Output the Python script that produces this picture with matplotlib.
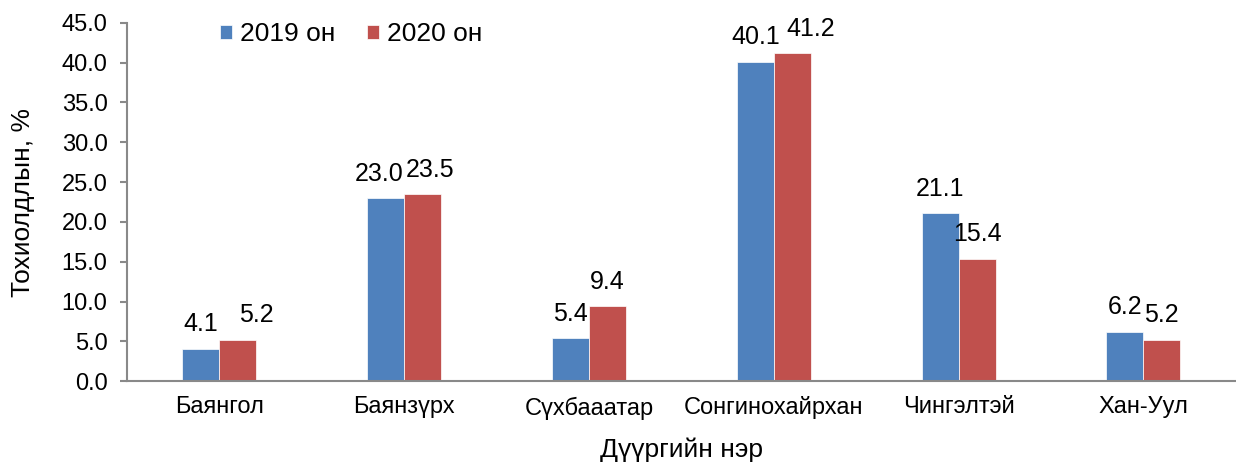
import numpy as np
import matplotlib.pyplot as plt

plt.rcParams['font.family'] = ['Liberation Sans', 'DejaVu Sans']

districts = ['Баянгол', 'Баянзүрх', 'Сүхбааатар', 'Сонгинохайрхан', 'Чингэлтэй', 'Хан-Уул']
vals_2019 = [4.1, 23.0, 5.4, 40.1, 21.1, 6.2]
vals_2020 = [5.2, 23.5, 9.4, 41.2, 15.4, 5.2]
series_names = ['2019 он', '2020 он']

# label nudges (points) where excel moved labels apart
dx_2019 = [0, -5, 0, 0, 0, 0]
dx_2020 = [13, 5, 0, 13, 0, 0]

fig = plt.figure(figsize=(12.36, 4.66), dpi=100)
ax = fig.add_axes([0.1028, 0.182, 0.897, 0.769])

x = np.arange(len(districts))
w = 0.2
b1 = ax.bar(x - w/2, vals_2019, w, color='#4F81BD', edgecolor='white', linewidth=0.5, label=series_names[0])
b2 = ax.bar(x + w/2, vals_2020, w, color='#C0504D', edgecolor='white', linewidth=0.5, label=series_names[1])

for bars, dx in [(b1, dx_2019), (b2, dx_2020)]:
    for bar, d in zip(bars, dx):
        h = bar.get_height()
        ax.annotate(f'{h:.1f}', (bar.get_x() + bar.get_width()/2, h),
                    xytext=(d, 9), textcoords='offset points',
                    ha='center', va='bottom', fontsize=18)

ax.set_xlim(-0.5, len(districts) - 0.5)
ax.set_ylim(0, 45)
ax.set_yticks(np.arange(0, 45.1, 5))
ax.set_yticklabels([f'{v:.1f}' for v in np.arange(0, 45.1, 5)])
ax.set_xticks(x)
ax.set_xticklabels(districts)
ax.tick_params(axis='y', labelsize=17, length=5, color='#898989', width=1.5, pad=9)
ax.tick_params(axis='x', labelsize=17, length=0, pad=11)

for s in ['top', 'right']:
    ax.spines[s].set_visible(False)
for s in ['left', 'bottom']:
    ax.spines[s].set_color('#898989')
    ax.spines[s].set_linewidth(1.5)

ax.set_ylabel('Тохиолдлын, %', fontsize=19)
ax.yaxis.set_label_coords(-0.083, 0.5)
ax.set_xlabel('Дүүргийн нэр', fontsize=19)
ax.xaxis.set_label_coords(0.5, -0.158)

fig.legend(handles=[b1, b2], labels=series_names, loc='upper left',
           bbox_to_anchor=(220/1236, 1 - 22/466), ncol=2, frameon=False,
           fontsize=19, borderpad=0, borderaxespad=0,
           handlelength=0.45, handleheight=0.45, handletextpad=0.3, columnspacing=1.2)

plt.savefig('out.png', dpi=100)
